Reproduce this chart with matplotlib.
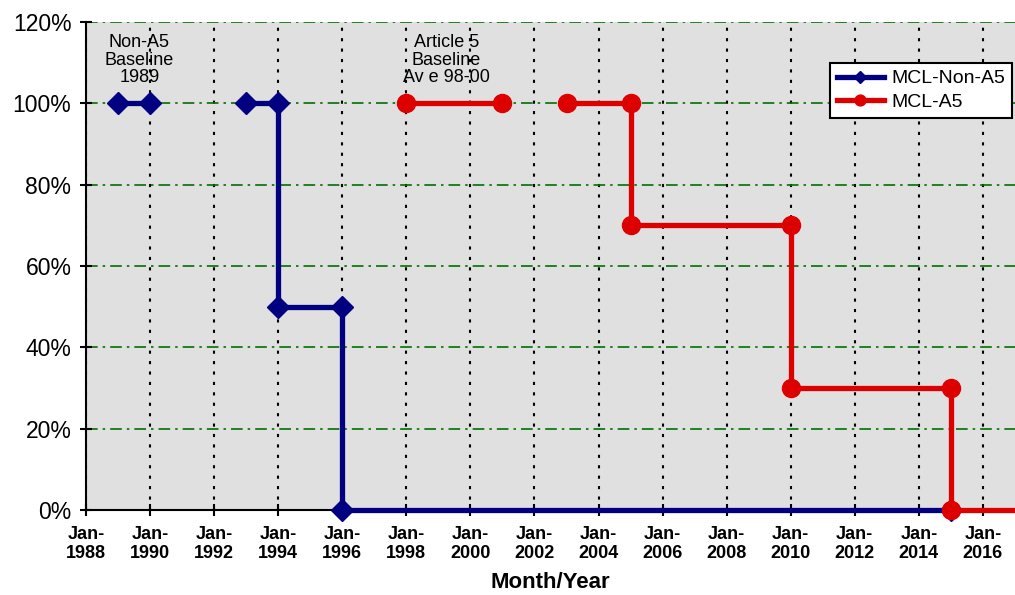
import numpy as np
import pandas as pd
import matplotlib
matplotlib.use("Agg")
import matplotlib.pyplot as plt
import matplotlib.dates as mdates
from matplotlib.ticker import PercentFormatter

plt.rcParams['font.family'] = ['Liberation Sans', 'DejaVu Sans']

# step data, None/nan breaks the line
non_a5_dates = ["1989-01-01", "1990-01-01", None, "1993-01-01", "1994-01-01",
                "1994-01-01", "1996-01-01", "1996-01-01", "2015-01-01"]
non_a5_vals = [1.0, 1.0, np.nan, 1.0, 1.0, 0.5, 0.5, 0.0, 0.0]

a5_dates = ["1998-01-01", "2001-01-01", None, "2003-01-01", "2005-01-01",
            "2005-01-01", "2010-01-01", "2010-01-01", "2015-01-01",
            "2015-01-01", "2017-01-01"]
a5_vals = [1.0, 1.0, np.nan, 1.0, 1.0, 0.7, 0.7, 0.3, 0.3, 0.0, 0.0]

notes = [("1989-09-01", "Non-A5\nBaseline\n1989"),
         ("1999-04-01", "Article 5\nBaseline\nAv e 98-00")]

x1 = pd.to_datetime(non_a5_dates)
x2 = pd.to_datetime(a5_dates)

fig = plt.figure(figsize=(10.15, 5.95), dpi=100)
ax = fig.add_axes([86/1015, 85/595, 929/1015, 488/595])
ax.set_facecolor("#e0e0e0")

ax.set_xlim(pd.Timestamp("1988-01-01"), pd.Timestamp("2017-01-01"))
ax.set_ylim(0, 1.2)
ax.set_yticks(np.arange(0, 1.21, 0.2))
ax.yaxis.set_major_formatter(PercentFormatter(1.0, decimals=0))
ax.xaxis.set_major_locator(mdates.YearLocator(2))
ax.xaxis.set_major_formatter(mdates.DateFormatter("%b-\n%Y"))

ax.grid(axis='x', color='black', linestyle=(0, (1.5, 3.5)), linewidth=1.5)
ax.grid(axis='y', color='#007000', linestyle=(0, (7, 3, 1.5, 3)), linewidth=1.2)
ax.set_axisbelow(True)

ax.plot(x1, non_a5_vals, color='#000080', lw=3.8, marker='D', ms=11,
        label='MCL-Non-A5', zorder=3, clip_on=False)
ax.plot(x2, a5_vals, color='#dd0000', lw=3.8, marker='o', ms=13,
        markevery=list(range(len(a5_vals) - 1)),
        label='MCL-A5', zorder=4, clip_on=False)

for d, t in notes:
    ax.text(pd.Timestamp(d), 1.17, t, ha='center', va='top', fontsize=13,
            linespacing=1.05, zorder=5)

for s in ['top', 'right']:
    ax.spines[s].set_visible(False)
for s in ['left', 'bottom']:
    ax.spines[s].set_linewidth(1.5)

ax.tick_params(axis='y', direction='inout', length=9, width=1.5, labelsize=16.5, pad=6)
ax.tick_params(axis='x', direction='inout', length=9, width=1.5, labelsize=13, pad=7)
for lab in ax.get_xticklabels():
    lab.set_fontweight('bold')
    lab.set_linespacing(1.15)

ax.set_xlabel("Month/Year", fontsize=16, fontweight='bold', labelpad=7)

leg = ax.legend(loc='upper right', bbox_to_anchor=(0.997, 0.916), borderaxespad=0,
                fancybox=False, framealpha=1, edgecolor='black', fontsize=14,
                handlelength=2.4, labelspacing=0.3, borderpad=0.35,
                handletextpad=0.4, markerscale=0.6)
leg.get_frame().set_linewidth(1.5)

fig.savefig("out.png", dpi=100)
